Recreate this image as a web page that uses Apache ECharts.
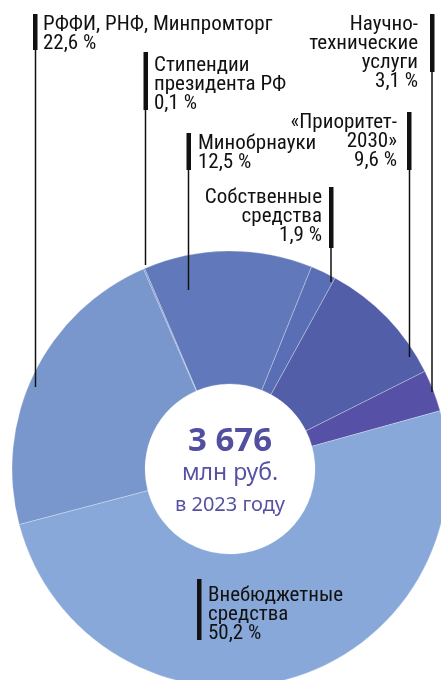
<!DOCTYPE html>
<html>
<head>
    <meta charset="utf-8">
    <title>Источники финансирования науки</title>
    <script src="https://cdn.jsdelivr.net/npm/echarts@6/dist/echarts.min.js"></script>
    <style>
        html, body { margin: 0; padding: 0; background: #fff; }
        #main { width: 441px; height: 680px; }
    </style>
</head>
<body>
    <div id="main"></div>
    <script type="text/javascript">
        // данные: доли источников, %, против часовой стрелки от правой стороны
        var names = ['Научно-\nтехнические\nуслуги', '«Приоритет-\n2030»', 'Собственные\nсредства', 'Минобрнауки',
            'Стипендии\nпрезидента РФ', 'РФФИ, РНФ, Минпромторг', 'Внебюджетные\nсредства'];
        var shares = [3.1, 9.6, 1.9, 12.5, 0.1, 22.6, 50.2];
        var colors = ['#5651a6', '#535ea9', '#5a6eb5', '#6179bb', '#6b86c4', '#7997cd', '#87a8d8'];
        var total = '3 676';
        var unit = 'млн руб.';
        var year = 'в 2023 году';

        // раскладка подписей (не данные)
        var labelX = [418, 397, 322, 198, 154, 43, 208];
        var labelY = [15, 113, 188, 134, 56, 15, 586];
        var labelAlign = ['right', 'right', 'right', 'left', 'left', 'left', 'left'];
        var lineX = [432, 409.5, 331, 188.5, 145.5, 35.5, null];
        var lineEnd = [392, 357, 282, 290, 265, 387, null];
        var barX = [430, 407, 329, 186.5, 143.5, 33, 197];
        var barTop = [14, 112, 187, 133, 52, 14, 579];
        var barBottom = [72, 170, 248, 170, 110, 50, 640];

        var myChart = echarts.init(document.getElementById('main'));
        var font = '"Liberation Sans Narrow", "Roboto Condensed", Roboto';

        var data = shares.map(function (v, i) {
            return {
                name: names[i],
                value: v,
                itemStyle: { color: colors[i] }
            };
        });

        // выноски: толстая планка у подписи и тонкая линия до сектора
        var graphics = [];
        barX.forEach(function (x, i) {
            graphics.push({
                type: 'rect',
                shape: { x: x, y: barTop[i], width: 4.5, height: barBottom[i] - barTop[i] },
                style: { fill: '#111' },
                z: 10
            });
            if (lineX[i] !== null) {
                graphics.push({
                    type: 'line',
                    shape: { x1: lineX[i], y1: barBottom[i], x2: lineX[i], y2: lineEnd[i] },
                    style: { stroke: '#111', lineWidth: 1.5 },
                    z: 10
                });
            }
        });
        graphics.push({
            type: 'text',
            x: 230, y: 426,
            style: {
                text: '{a|' + total + '}\n{b|' + unit + '}\n{c|' + year + '}',
                align: 'center',
                rich: {
                    a: { fontFamily: 'Noto Sans', fontWeight: 'bold', fontSize: 33, lineHeight: 32, fill: '#524fa0' },
                    b: { fontFamily: 'Noto Sans', fontSize: 23, lineHeight: 30, fill: '#5552a3' },
                    c: { fontFamily: 'Noto Sans', fontSize: 20, lineHeight: 34, fill: '#5552a3' }
                }
            },
            z: 10
        });

        var option = {
            animation: false,
            graphic: graphics,
            series: [{
                type: 'pie',
                center: [230, 469],
                radius: [85, 218],
                startAngle: 15.5,
                clockwise: false,
                silent: true,
                avoidLabelOverlap: false,
                itemStyle: { borderColor: 'rgba(255,255,255,0.35)', borderWidth: 0.8 },
                label: {
                    show: true,
                    overflow: 'none',
                    color: '#111',
                    fontFamily: font,
                    fontSize: 21,
                    lineHeight: 19,
                    formatter: function (p) {
                        return p.name + '\n' + String(p.value).replace('.', ',') + ' %';
                    }
                },
                labelLine: { show: false },
                labelLayout: function (params) {
                    var i = params.dataIndex;
                    return {
                        x: labelX[i],
                        y: labelY[i],
                        align: labelAlign[i],
                        verticalAlign: 'top'
                    };
                },
                data: data
            }]
        };

        myChart.setOption(option);
    </script>
</body>
</html>
